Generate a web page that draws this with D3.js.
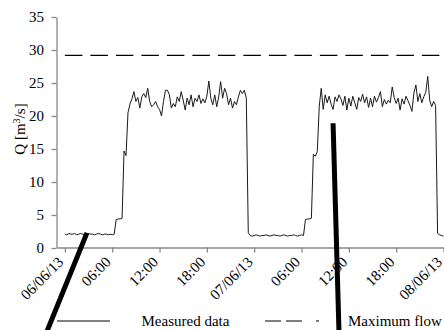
<!DOCTYPE html>
<meta charset="utf-8">
<style>
body { margin: 0; background: #fff; }
svg text { font-family: "Liberation Serif", "Times New Roman", serif; font-size: 15px; fill: #000; }
.axis path, .axis line { stroke: #888; stroke-width: 1.3px; }
</style>
<svg width="444" height="330"></svg>
<script src="https://cdn.jsdelivr.net/npm/d3@7"></script>
<script>

// flow every 15 minutes, from 06/06/13 00:00 to 08/06/13 00:00
var stepHours = 0.25;
var measuredFlow = [
  2.1, 2.0, 2.2, 2.1, 2.1, 2.2, 2.0, 2.1, 2.2, 2.1, 2.0, 2.1, 2.2, 2.1, 2.1, 2.0, 2.1, 2.2, 2.1, 2.0, 2.1, 2.1, 2.0, 2.1, 2.0, 2.1,
  4.3, 4.4, 4.4, 4.5,
  14.7, 14.0, 20.5,
  21.8, 22.6, 23.7, 22.2, 22.8, 21.2, 22.9, 23.4, 22.8, 24.2, 22.2, 21.4, 21.7, 22.2, 21.4, 21.0, 20.0, 22.2, 23.9, 23.9,
  23.2, 21.2, 21.9, 21.4, 22.9, 22.2, 23.7, 22.4, 20.9, 22.7, 21.7, 23.2, 21.4, 22.7, 22.2, 23.2, 21.9, 22.6, 22.0, 23.0,
  25.3, 22.7, 21.7, 23.2, 21.4, 22.9, 25.2, 22.7, 24.2, 23.4, 21.7, 22.7, 21.2, 22.2, 21.7, 22.9, 23.9, 23.4, 23.9, 22.7,
  2.3, 1.9, 1.8, 1.9, 2.0, 1.9, 1.8, 1.9, 1.9, 2.0, 1.9, 1.8, 1.9, 2.0, 1.9, 1.9, 1.8, 1.9, 2.0, 1.9, 1.8, 1.9, 1.9, 2.0,
  1.9, 1.8, 1.9, 2.0, 1.9,
  4.3, 4.4, 4.4, 4.5,
  14.2, 13.9, 14.6,
  21.5, 24.2, 21.0, 23.2, 22.0, 23.0, 21.8, 21.0, 22.9, 22.2, 23.2, 22.6, 21.6, 23.0, 20.9, 22.7, 21.5, 23.0, 22.0, 21.0,
  22.8, 22.2, 23.3, 22.0, 22.9, 21.3, 22.7, 21.4, 23.0, 22.1, 22.8, 23.7, 21.4, 22.5, 21.8, 22.4, 22.0, 24.4, 22.8, 21.9,
  22.7, 20.9, 22.6, 21.8, 23.0, 22.3, 21.6, 20.7, 23.5, 24.7, 22.2, 23.4, 22.0, 22.9, 23.6, 26.0, 22.4, 21.4, 22.2, 21.6,
  2.2, 2.0, 1.9, 1.8
];
var maxFlow = 29.2;

var tickHours = [0, 6, 12, 18, 24, 30, 36, 42, 48];
var tickLabels = ["06/06/13", "06:00", "12:00", "18:00", "07/06/13", "06:00", "12:00", "18:00", "08/06/13"];
var yTicks = [0, 5, 10, 15, 20, 25, 30, 35];
var legendLabels = ["Measured data", "Maximum flow"];

// the two thick pen strokes over the chart: [hour, Q] -> [hour, Q]
var strokes = [
  [[2.8, 2.3], [-2.3, -12.7]],
  [[34.0, 18.9], [34.75, -12.7]]
];

var svg = d3.select("svg");

var x = d3.scaleLinear().domain([-1, 48]).range([57, 443.5]);
var y = d3.scaleLinear().domain([0, 35]).range([248, 17]);

// axes
var yAxis = svg.append("g")
    .attr("class", "axis")
    .attr("transform", "translate(56.5,0)")
    .call(d3.axisLeft(y).tickValues(yTicks).tickSize(5).tickSizeOuter(0).tickPadding(7.5));
yAxis.selectAll("text").attr("fill", "#000");

var xAxis = svg.append("g")
    .attr("class", "axis")
    .attr("transform", "translate(0,247.5)")
    .call(d3.axisBottom(x).tickValues(tickHours).tickSize(5).tickSizeOuter(0)
      .tickFormat(function(d, i) { return tickLabels[i]; }));
xAxis.selectAll("text")
    .attr("fill", "#000")
    .attr("x", null).attr("y", null).attr("dy", null)
    .attr("text-anchor", "end")
    .attr("transform", "translate(-1,15.5) rotate(-45)");

// y title
var title = svg.append("text")
    .attr("text-anchor", "middle")
    .attr("transform", "translate(25,129) rotate(-90)");
title.append("tspan").text("Q [m");
title.append("tspan").attr("baseline-shift", "super").style("font-size", "10px").text("3");
title.append("tspan").text("/s]");

// maximum flow
svg.append("line")
    .attr("x1", x(0)).attr("x2", x(48))
    .attr("y1", y(maxFlow)).attr("y2", y(maxFlow))
    .attr("stroke", "#000")
    .attr("stroke-width", 1.2)
    .attr("stroke-dasharray", "17.5,8");

// measured data
var line = d3.line()
    .x(function(d, i) { return x(i * stepHours); })
    .y(function(d) { return y(d); });

svg.append("path")
    .datum(measuredFlow)
    .attr("fill", "none")
    .attr("stroke", "#1a1a1a")
    .attr("stroke-width", 1)
    .attr("stroke-linejoin", "round")
    .attr("d", line);

// legend
var legend = svg.append("g");
legend.append("line")
    .attr("x1", 57).attr("x2", 110).attr("y1", 321).attr("y2", 321)
    .attr("stroke", "#000").attr("stroke-width", 1);
legend.append("text").attr("x", 141.5).attr("y", 326).text(legendLabels[0]);
legend.append("line")
    .attr("x1", 265).attr("x2", 319).attr("y1", 321).attr("y2", 321)
    .attr("stroke", "#000").attr("stroke-width", 1.2)
    .attr("stroke-dasharray", "16,5,16,14");
legend.append("text").attr("x", 348).attr("y", 326).text(legendLabels[1]);

// pen strokes
svg.selectAll(".stroke")
    .data(strokes)
  .enter().append("line")
    .attr("class", "stroke")
    .attr("x1", function(d) { return x(d[0][0]); })
    .attr("y1", function(d) { return y(d[0][1]); })
    .attr("x2", function(d) { return x(d[1][0]); })
    .attr("y2", function(d) { return y(d[1][1]); })
    .attr("stroke", "#000")
    .attr("stroke-width", 5);

</script>
